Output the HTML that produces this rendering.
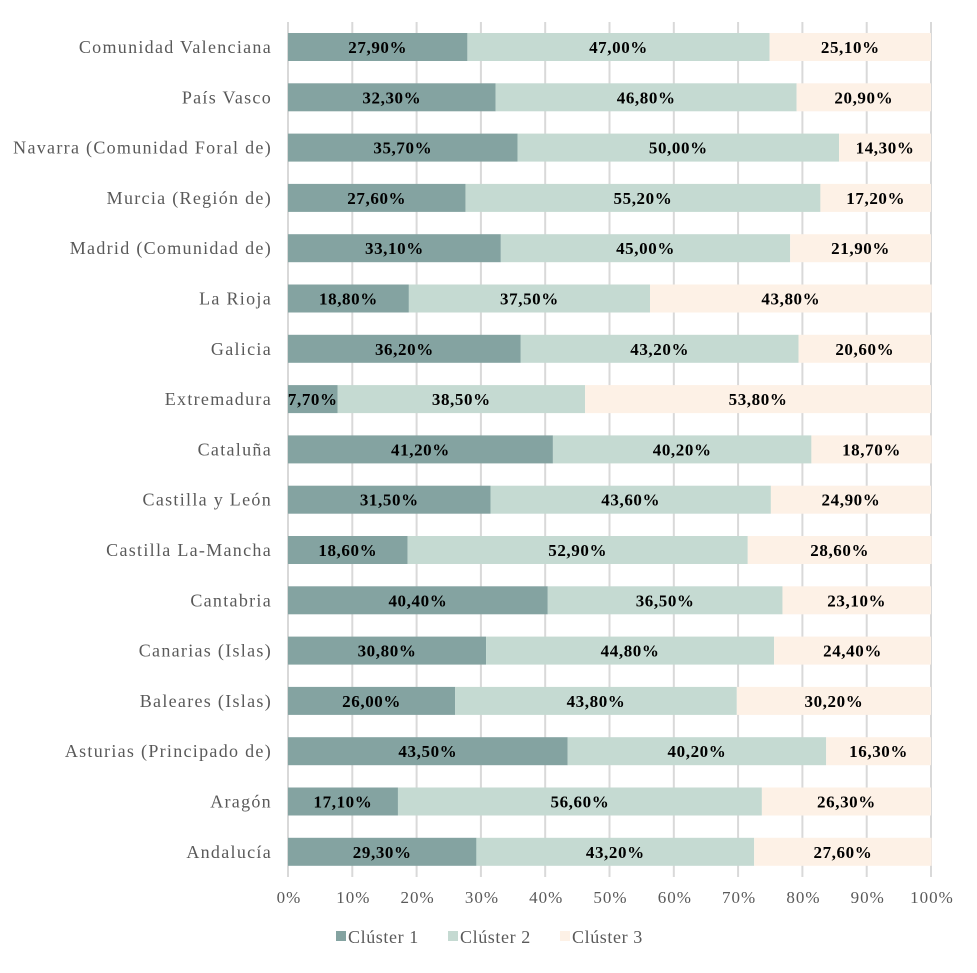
<!DOCTYPE html>
<html><head><meta charset="utf-8"><style>
body{margin:0;background:#fff}
text{font-family:"Liberation Serif",serif}
</style></head><body>
<svg id="chart" width="977" height="968" xmlns="http://www.w3.org/2000/svg"></svg>
<script>
const categories=["Comunidad Valenciana","País Vasco","Navarra (Comunidad Foral de)","Murcia (Región de)","Madrid (Comunidad de)","La Rioja","Galicia","Extremadura","Cataluña","Castilla y León","Castilla La-Mancha","Cantabria","Canarias (Islas)","Baleares (Islas)","Asturias (Principado de)","Aragón","Andalucía"];
const cluster1=[27.9,32.3,35.7,27.6,33.1,18.8,36.2,7.7,41.2,31.5,18.6,40.4,30.8,26.0,43.5,17.1,29.3];
const cluster2=[47.0,46.8,50.0,55.2,45.0,37.5,43.2,38.5,40.2,43.6,52.9,36.5,44.8,43.8,40.2,56.6,43.2];
const cluster3=[25.1,20.9,14.3,17.2,21.9,43.8,20.6,53.8,18.7,24.9,28.6,23.1,24.4,30.2,16.3,26.3,27.6];
const seriesNames=["Clúster 1","Clúster 2","Clúster 3"];
const ticks=[0,10,20,30,40,50,60,70,80,90,100];
const colors=["#84a3a1","#c5dad2","#fdf1e6"];
const svg=document.getElementById('chart');
const NS="http://www.w3.org/2000/svg";
const x0=288,x1=931,yTop=22,rowH=50.3,y0=47,barH=28;
const xs=v=>x0+(x1-x0)*v/100;
const ys=i=>y0+i*rowH;
function mk(t,a,txt){const e=document.createElementNS(NS,t);for(const k in a)e.setAttribute(k,a[k]);if(txt!=null)e.textContent=txt;svg.appendChild(e);return e;}
ticks.forEach(t=>{
 const l=mk('line',{x1:xs(t),x2:xs(t),y1:yTop,y2:877,stroke:'#d9d9d9','stroke-width':2});
 
 
 const tx=mk('text',{x:xs(t)+1,y:903,'text-anchor':'middle','font-size':17,'letter-spacing':1,fill:'#595959'},t+'%');
 
 
});
const series=[cluster1,cluster2,cluster3];
categories.forEach((c,i)=>{
 const cy=ys(i);
 const lb=mk('text',{x:272,y:cy+6,'text-anchor':'end','font-size':18,'letter-spacing':1.3,fill:'#595959'},c);
 
 
 let acc=0;
 series.forEach((s,k)=>{
  const v=s[i];
  const r=mk('rect',{x:xs(acc),y:cy-barH/2,width:xs(acc+v)-xs(acc),height:barH,fill:colors[k]});
  
  
  const t=mk('text',{x:(xs(acc)+xs(acc+v))/2,y:cy+6,'text-anchor':'middle','font-size':17,'font-weight':'bold','letter-spacing':0.6,fill:'#000'},v.toFixed(2).replace('.',',')+'%');
  
  
  acc+=v;
 });
});
const lx=[336,448,560];
seriesNames.forEach((n,k)=>{
 const r=mk('rect',{x:lx[k],y:931,width:10,height:10,fill:colors[k]});
 
 
 const t=mk('text',{x:lx[k]+12,y:943,'font-size':18,'letter-spacing':0.6,fill:'#595959'},n);
 
 
});
</script>
</body></html>
